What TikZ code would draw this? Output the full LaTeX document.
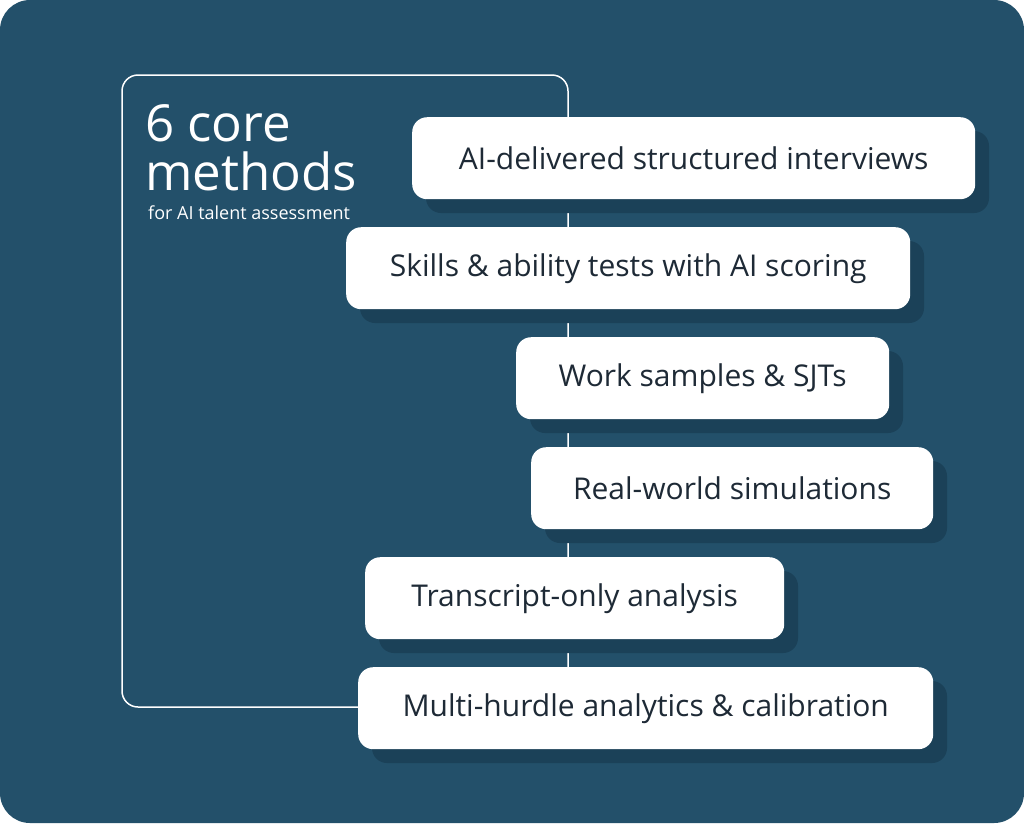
\documentclass[tikz,border=0pt]{standalone}
\usepackage{fontspec}
\setmainfont{Open Sans}
\definecolor{bg}{HTML}{23506A}
\definecolor{sh}{HTML}{1B4158}
\definecolor{tx}{HTML}{1E2A36}
\begin{document}
\begin{tikzpicture}[x=1pt,y=-1pt,
  item/.style={fill=white,rounded corners=15pt,minimum height=82pt,inner sep=0pt,text=tx,font=\fontsize{30}{34}\selectfont},
  shad/.style={fill=sh,rounded corners=15pt}]
\useasboundingbox (0,0) rectangle (1024,823);
\fill[bg,rounded corners=30pt] (0,0) rectangle (1024,823);
\draw[white,line width=1.5pt,rounded corners=16pt] (122,75) rectangle (568,707);
\node[anchor=north west,text=white,align=left,inner sep=0pt,font=\fontsize{51}{49}\selectfont] (t) at (145,104) {6 core\\methods};
\node[anchor=north west,text=white,inner sep=0pt,font=\fontsize{18}{20}\selectfont] (s) at (148,206) {for AI talent assessment};
\foreach \n/\a/\b/\y/\t in {
 b1/412/975/117/{AI-delivered structured interviews},
 b2/346/910/227/{Skills \& ability tests with AI scoring},
 b3/516/889/337/{Work samples \& SJTs},
 b4/531/933/447/{Real-world simulations},
 b5/365/784/557/{Transcript-only analysis},
 b6/358/933/667/{Multi-hurdle analytics \& calibration}}{
  \fill[shad] (\a+14,\y+14) rectangle (\b+14,\y+96);
  \node[item,minimum width={\b-\a},anchor=north west] (\n) at (\a,\y) {\t};
}
\end{tikzpicture}
\end{document}
